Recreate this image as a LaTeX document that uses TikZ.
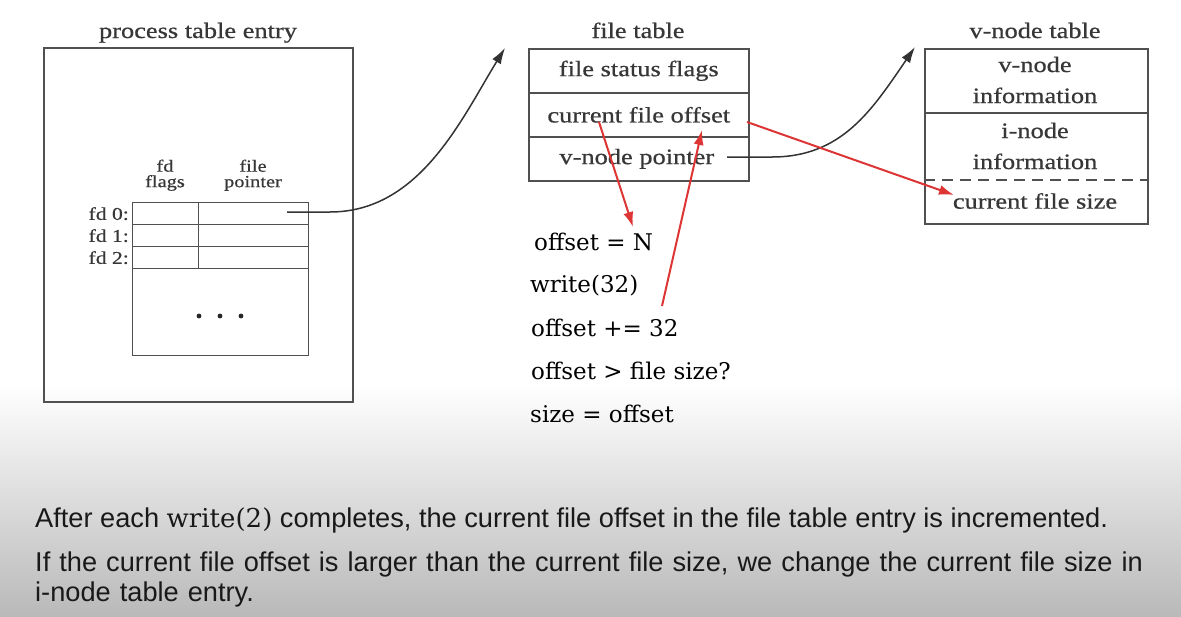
\documentclass[tikz,border=0pt]{standalone}
\usepackage{fontspec}
\setmainfont{Liberation Serif}[FakeStretch=1.2,FakeBold=0.6]
\newfontfamily\tw{DejaVu Serif}
\newfontfamily\sansf{Liberation Sans}
\usetikzlibrary{arrows.meta}
\definecolor{boxc}{RGB}{80,80,80}
\definecolor{txtc}{RGB}{55,55,55}
\definecolor{redc}{RGB}{221,52,52}
\definecolor{bgbot}{RGB}{185,185,185}
\definecolor{btxt}{RGB}{25,25,25}
\begin{document}
\begin{tikzpicture}[x=1pt,y=-1pt,
  box/.style={draw=boxc, line width=1.6pt, inner sep=0pt, anchor=north west},
  cell/.style={draw=boxc, line width=1.3pt, inner sep=0pt, anchor=north west},
  lbl/.style={font=\fontsize{22}{24}\selectfont, text=txtc, inner sep=0pt},
  small/.style={font=\fontsize{17}{15.5}\selectfont, text=txtc, inner sep=0pt, align=center},
  code/.style={font=\tw\fontsize{23}{25}\selectfont, text=black, inner sep=0pt, anchor=west},
  note/.style={font=\sansf\fontsize{27.2}{30}\selectfont, text=btxt, inner sep=0pt, anchor=base west},
  conn/.style={draw=black!80, line width=1.5pt, -{Latex[length=16pt,width=10pt]}},
  redarr/.style={draw=redc, line width=2pt, -{Latex[length=15pt,width=10pt]}}
]
% background
\fill[white] (0,0) rectangle (1181,616);
\shade[top color=white, bottom color=bgbot] (0,385) rectangle (1181,616);
\useasboundingbox (0,0) rectangle (1181,616);

% process table entry
\node[box, minimum width=309, minimum height=354] (proc) at (43,47) {};
\node[lbl, anchor=base] (proct) at (198,38) {process table entry};
\node[small, anchor=south] (hfl) at (165,191) {fd\\flags};
\node[small, anchor=south] (hfp) at (253,191) {file\\pointer};
\node[cell, minimum width=66, minimum height=22] (fl0) at (132,202) {};
\node[cell, minimum width=110, minimum height=22] (fp0) at (198,202) {};
\node[cell, minimum width=66, minimum height=22] (fl1) at (132,224) {};
\node[cell, minimum width=110, minimum height=22] (fp1) at (198,224) {};
\node[cell, minimum width=66, minimum height=22] (fl2) at (132,246) {};
\node[cell, minimum width=110, minimum height=22] (fp2) at (198,246) {};
\node[cell, minimum width=176, minimum height=87] (rest) at (132,268) {};
\node[small, anchor=east, font=\fontsize{18}{15}\selectfont] (fd0) at (fl0.west) {fd 0:\,};
\node[small, anchor=east, font=\fontsize{18}{15}\selectfont] (fd1) at (fl1.west) {fd 1:\,};
\node[small, anchor=east, font=\fontsize{18}{15}\selectfont] (fd2) at (fl2.west) {fd 2:\,};
\fill[black!85] (199,316) circle (2.4) (220,316) circle (2.4) (241,316) circle (2.4);

% file table
\node[lbl, anchor=base] (ftt) at (638,38) {file table};
\node[box, minimum width=220, minimum height=44] (ft1) at (528,48) {};
\node[box, minimum width=220, minimum height=44] (ft2) at (528,92) {};
\node[box, minimum width=220, minimum height=44] (ft3) at (528,136) {};
\node[lbl] (ft1t) at (ft1.center) {file status flags};
\node[lbl] (ft2t) at (ft2.center) {current file offset};
\node[lbl] (ft3t) at ([xshift=-2pt]ft3.center) {v-node pointer};

% v-node table
\node[lbl, anchor=base] (vnt) at (1035,38) {v-node table};
\node[box, minimum width=223, minimum height=175] (vn) at (924,48) {};
\draw[boxc, line width=2.2pt] (vn.west |- 0,113) coordinate (d1) -- (vn.east |- 0,113);
\draw[boxc, line width=1.6pt, dash pattern=on 11pt off 7pt] (vn.west |- 0,180) -- (vn.east |- 0,180);
\node[lbl, align=center, font=\fontsize{22}{31}\selectfont] (vn1t) at (1035,80) {v-node\\information};
\node[lbl, align=center, font=\fontsize{22}{31}\selectfont] (vn2t) at (1035,146) {i-node\\information};
\node[lbl] (vn3t) at (1035,201) {current file size};

% code lines
\node[code] (c1) at (534,242) {offset = N};
\node[code] (c2) at (530,286) {write(32)};
\node[code] (c3) at (531,328) {offset += 32};
\node[code] (c4) at (531,371) {offset > file size?};
\node[code] (c5) at (530,414) {size = offset};

% black connectors
\coordinate (a1s) at (287,212);
\coordinate (a1e) at (505,48);
\draw[conn] (a1s) -- (330,212) .. controls (420,212) and (462,118) .. (a1e);
\coordinate (a2s) at (727,157);
\coordinate (a2e) at (915,47);
\draw[conn] (a2s) -- (772,157) .. controls (842,157) and (872,110) .. (a2e);

% red arrows
\coordinate (r1s) at (599,122);
\coordinate (r1e) at (633,227);
\draw[redarr] (r1s) -- (r1e);
\coordinate (r2s) at (662,306);
\coordinate (r2e) at (702,130);
\draw[redarr] (r2s) -- (r2e);
\coordinate (r3s) at (747,122);
\coordinate (r3e) at (954,195);
\draw[redarr] (r3s) -- (r3e);

% notes
\node[note] (n1) at (35,527) {After each {\tw\fontsize{26}{30}\selectfont write(2)} completes, the current file offset in the file table entry is incremented.};
\node[note, align=left, text width=1140pt] (n2) at (35,571) {If the current file offset is larger than the current file size, we change the current file size in\\i-node table entry.};
\end{tikzpicture}
\end{document}
